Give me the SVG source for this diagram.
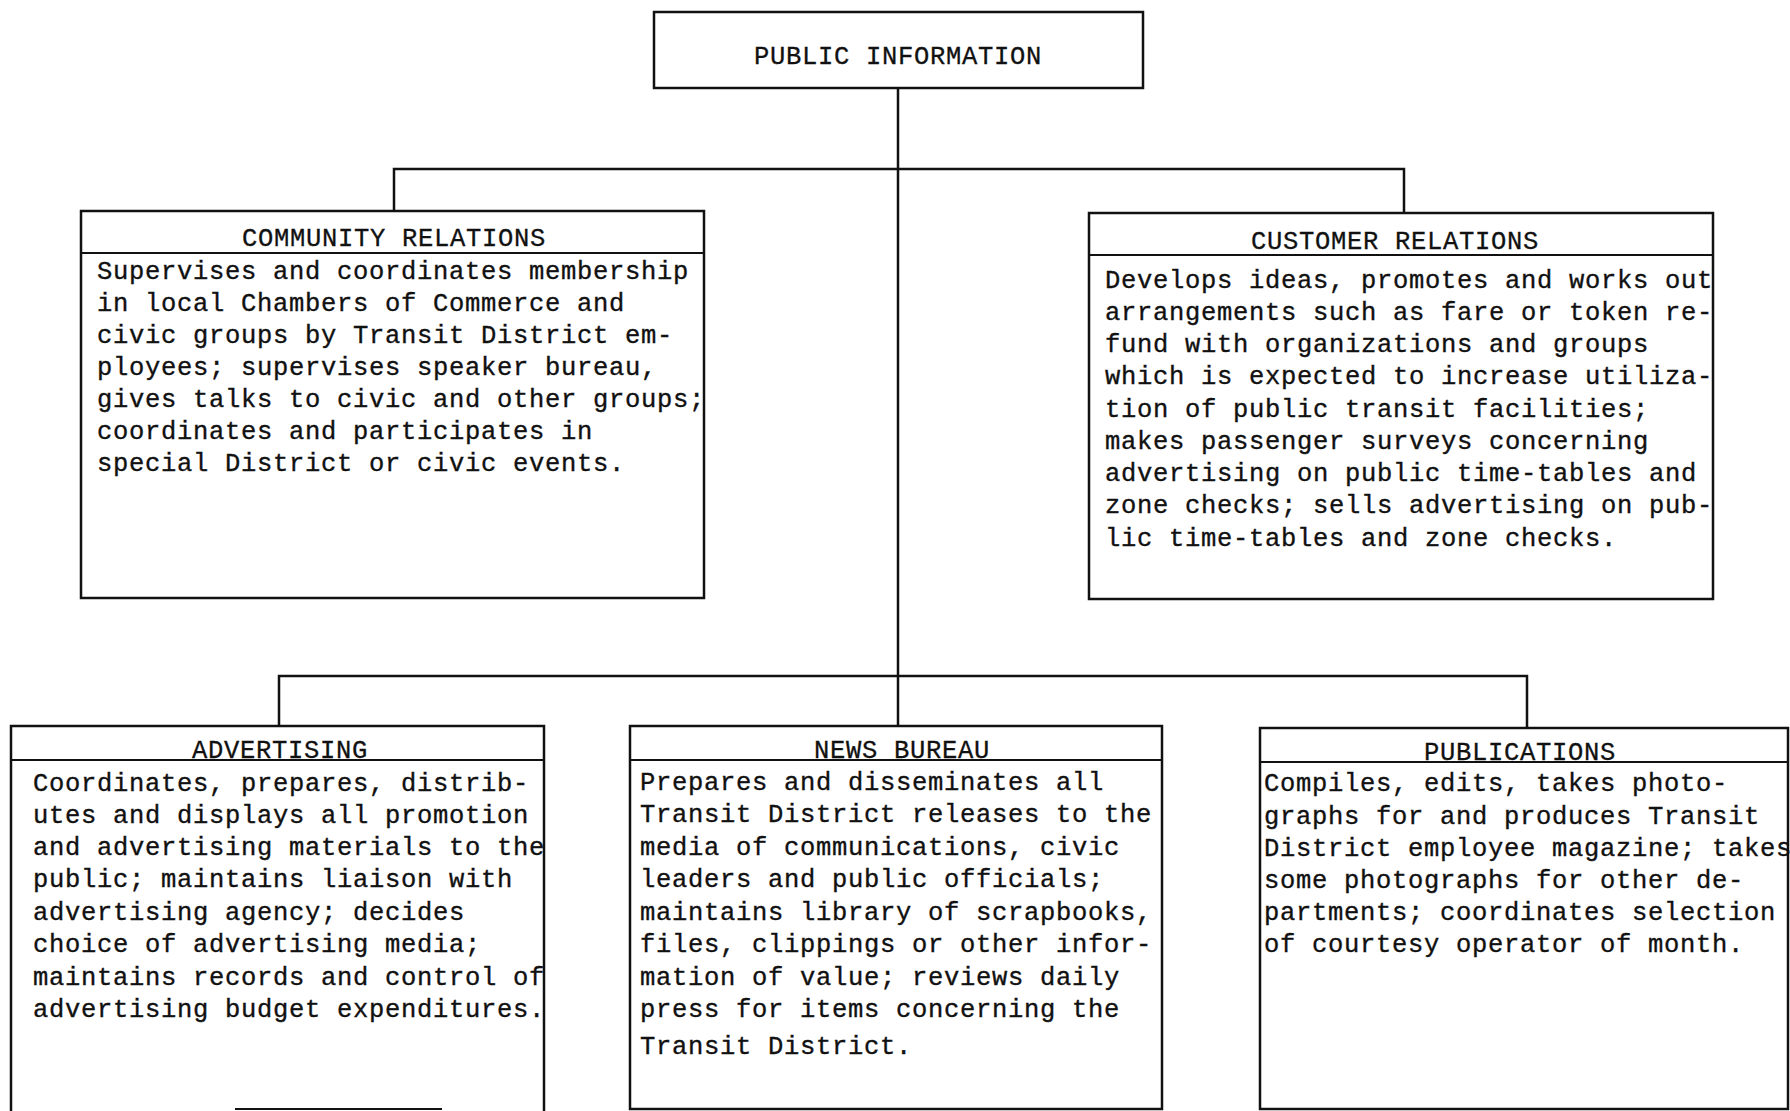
<svg xmlns="http://www.w3.org/2000/svg" width="1790" height="1111" viewBox="0 0 1790 1111">
  <style>
    .box { fill: #ffffff; stroke: #111111; stroke-width: 2.5; }
    .rule { stroke: #111111; stroke-width: 2.2; fill: none; }
    .wire { stroke: #111111; stroke-width: 2.5; fill: none; }
    .title { font-family: "Liberation Mono", "DejaVu Sans Mono", monospace; font-size: 25.5px; letter-spacing: 0.7px; fill: #111111; stroke: #111111; stroke-width: 0.3; text-anchor: middle; }
    .body { font-family: "Liberation Mono", "DejaVu Sans Mono", monospace; font-size: 25.5px; letter-spacing: 0.7px; fill: #111111; stroke: #111111; stroke-width: 0.35; }
  </style>

  <rect width="1790" height="1111" fill="#ffffff"/>

  <!-- connectors -->
  <g id="connectors">
    <line class="wire" x1="898" y1="88" x2="898" y2="726"/>
    <polyline class="wire" points="394,211 394,169 1404,169 1404,213"/>
    <polyline class="wire" points="279,726 279,676 1527,676 1527,728"/>
  </g>

  <!-- head office -->
  <g id="public-information">
    <rect class="box" x="654" y="12" width="489" height="76"/>
    <text class="title" x="898" y="64">PUBLIC INFORMATION</text>
  </g>

  <g id="community-relations">
    <rect class="box" x="81" y="211" width="623" height="387"/>
    <line class="rule" x1="81" y1="253" x2="704" y2="253"/>
    <text class="title" x="394" y="246">COMMUNITY RELATIONS</text>
    <text class="body" x="97" y="279">Supervises and coordinates membership</text>
    <text class="body" x="97" y="311">in local Chambers of Commerce and</text>
    <text class="body" x="97" y="343">civic groups by Transit District em-</text>
    <text class="body" x="97" y="375">ployees; supervises speaker bureau,</text>
    <text class="body" x="97" y="407">gives talks to civic and other groups;</text>
    <text class="body" x="97" y="439">coordinates and participates in</text>
    <text class="body" x="97" y="471">special District or civic events.</text>
  </g>

  <g id="customer-relations">
    <rect class="box" x="1089" y="213" width="624" height="386"/>
    <line class="rule" x1="1089" y1="255" x2="1713" y2="255"/>
    <text class="title" x="1395" y="249">CUSTOMER RELATIONS</text>
    <text class="body" x="1105" y="288">Develops ideas, promotes and works out</text>
    <text class="body" x="1105" y="320">arrangements such as fare or token re-</text>
    <text class="body" x="1105" y="352">fund with organizations and groups</text>
    <text class="body" x="1105" y="384">which is expected to increase utiliza-</text>
    <text class="body" x="1105" y="417">tion of public transit facilities;</text>
    <text class="body" x="1105" y="449">makes passenger surveys concerning</text>
    <text class="body" x="1105" y="481">advertising on public time-tables and</text>
    <text class="body" x="1105" y="513">zone checks; sells advertising on pub-</text>
    <text class="body" x="1105" y="546">lic time-tables and zone checks.</text>
  </g>

  <g id="advertising">
    <polyline class="box" fill="none" points="11,1112 11,726 544,726 544,1112"/>
    <line class="rule" x1="235" y1="1109" x2="442" y2="1109"/>
    <line class="rule" x1="11" y1="760" x2="544" y2="760"/>
    <text class="title" x="280" y="758">ADVERTISING</text>
    <text class="body" x="33" y="791">Coordinates, prepares, distrib-</text>
    <text class="body" x="33" y="823">utes and displays all promotion</text>
    <text class="body" x="33" y="855">and advertising materials to the</text>
    <text class="body" x="33" y="887">public; maintains liaison with</text>
    <text class="body" x="33" y="920">advertising agency; decides</text>
    <text class="body" x="33" y="952">choice of advertising media;</text>
    <text class="body" x="33" y="985">maintains records and control of</text>
    <text class="body" x="33" y="1017">advertising budget expenditures.</text>
  </g>

  <g id="news-bureau">
    <rect class="box" x="630" y="726" width="532" height="383"/>
    <line class="rule" x1="630" y1="760" x2="1162" y2="760"/>
    <text class="title" x="902" y="758">NEWS BUREAU</text>
    <text class="body" x="640" y="790">Prepares and disseminates all</text>
    <text class="body" x="640" y="822">Transit District releases to the</text>
    <text class="body" x="640" y="855">media of communications, civic</text>
    <text class="body" x="640" y="887">leaders and public officials;</text>
    <text class="body" x="640" y="920">maintains library of scrapbooks,</text>
    <text class="body" x="640" y="952">files, clippings or other infor-</text>
    <text class="body" x="640" y="985">mation of value; reviews daily</text>
    <text class="body" x="640" y="1017">press for items concerning the</text>
    <text class="body" x="640" y="1054">Transit District.</text>
  </g>

  <g id="publications">
    <rect class="box" x="1260" y="728" width="528" height="381"/>
    <line class="rule" x1="1260" y1="762" x2="1788" y2="762"/>
    <text class="title" x="1520" y="760">PUBLICATIONS</text>
    <text class="body" x="1264" y="791">Compiles, edits, takes photo-</text>
    <text class="body" x="1264" y="824">graphs for and produces Transit</text>
    <text class="body" x="1264" y="856">District employee magazine; takes</text>
    <text class="body" x="1264" y="888">some photographs for other de-</text>
    <text class="body" x="1264" y="920">partments; coordinates selection</text>
    <text class="body" x="1264" y="952">of courtesy operator of month.</text>
  </g>
</svg>
